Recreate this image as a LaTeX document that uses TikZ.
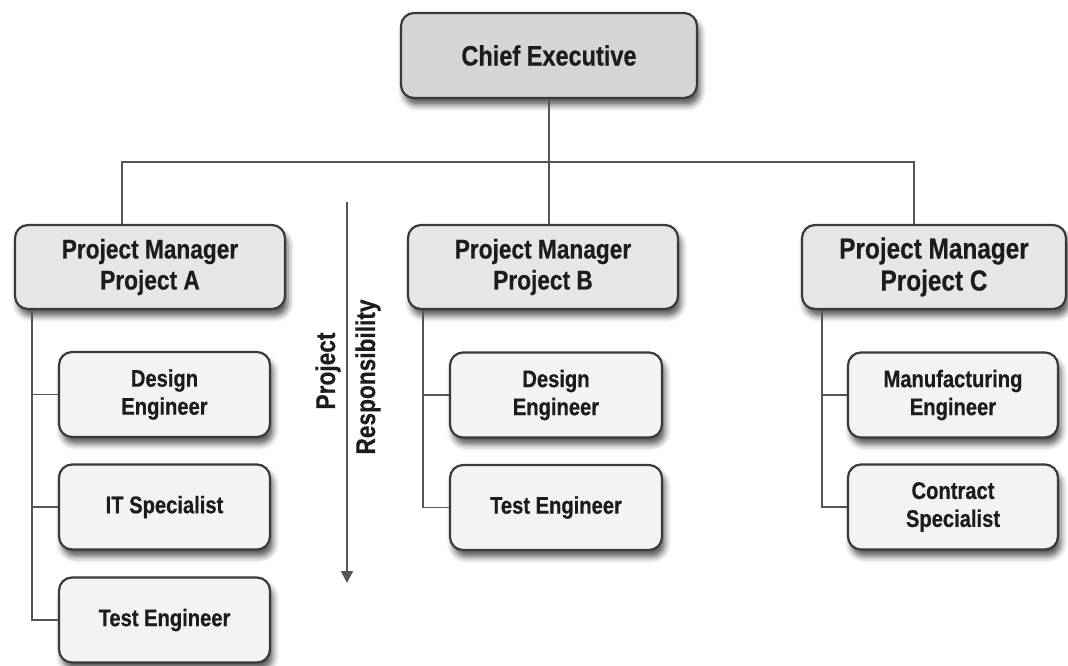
\documentclass[tikz,border=0pt]{standalone}
\usepackage{fontspec}
\setmainfont{Liberation Sans}[FakeStretch=0.84, BoldFeatures={FakeBold=0.5}]
\usetikzlibrary{arrows.meta,shadows.blur}
\definecolor{boxline}{HTML}{3A3A3A}
\definecolor{conn}{HTML}{555555}
\definecolor{cefill}{HTML}{D4D5D7}
\definecolor{pmfill}{HTML}{E6E6E7}
\definecolor{chfill}{HTML}{F3F3F3}
\definecolor{txt}{HTML}{1C1C1C}
\begin{document}
\begin{tikzpicture}[x=1pt,y=-1pt,
  box/.style={draw=boxline, line width=2.2pt, rounded corners=13pt, text=txt, align=center, inner sep=0pt,
    blur shadow={shadow xshift=3pt, shadow yshift=-7pt, shadow blur radius=6pt, shadow opacity=65}},
  cebox/.style={box, fill=cefill, minimum width=296pt, minimum height=85pt, font=\bfseries\fontsize{28}{32}\selectfont},
  pmbox/.style={box, fill=pmfill, minimum width=270pt, minimum height=84pt, font=\bfseries\fontsize{27}{31}\selectfont},
  chbox/.style={box, fill=chfill, minimum width=211pt, minimum height=85pt, font=\bfseries\fontsize{24}{28}\selectfont},
  link/.style={draw=conn, line width=1.8pt},
  rlabel/.style={rotate=90, text=txt, font=\bfseries\fontsize{27}{31}\selectfont, inner sep=0pt}
]
\useasboundingbox (0,0) rectangle (1068,665);

\node[cebox] (ce) at (549,55.5) {Chief Executive};

\node[pmbox] (pma) at (150,267) {Project Manager\\Project A};
\node[pmbox] (pmb) at (543,267) {Project Manager\\Project B};
\node[pmbox, minimum width=264pt, font=\bfseries\fontsize{29}{32}\selectfont] (pmc) at (934,267) {Project Manager\\Project C};

\node[chbox] (ade) at (164.5,394.5) {Design\\Engineer};
\node[chbox] (ait) at (164.5,507) {IT Specialist};
\node[chbox] (ate) at (164.5,620) {Test Engineer};

\node[chbox, minimum width=212pt] (bde) at (556,395) {Design\\Engineer};
\node[chbox, minimum width=212pt] (bte) at (556,507.5) {Test Engineer};

\node[chbox, minimum width=210pt] (cme) at (953,395) {Manufacturing\\Engineer};
\node[chbox, minimum width=210pt] (ccs) at (953,507) {Contract\\Specialist};

% top connectors
\coordinate (hl) at (122,162);
\coordinate (hr) at (914,162);
\draw[link] (ce.south) -- (ce.south |- pmb.north);
\draw[link] (hl |- pma.north) -- (hl) -- (hr) -- (hr |- pmc.north);

% brackets
\coordinate (ba) at (32,0);
\coordinate (bb) at (423,0);
\coordinate (bc) at (822,0);
\draw[link] (ba |- pma.south) -- (ba |- ate.west) -- (ate.west);
\draw[link] (ba |- ade.west) -- (ade.west);
\draw[link] (ba |- ait.west) -- (ait.west);
\draw[link] (bb |- pmb.south) -- (bb |- bte.west) -- (bte.west);
\draw[link] (bb |- bde.west) -- (bde.west);
\draw[link] (bc |- pmc.south) -- (bc |- ccs.west) -- (ccs.west);
\draw[link] (bc |- cme.west) -- (cme.west);

% responsibility arrow
\coordinate (arrtop) at (347,202);
\coordinate (arrbot) at (347,583);
\draw[link, -{Triangle[length=12pt,width=12pt]}] (arrtop) -- (arrbot);
\node[rlabel] (lp) at (328,371) {Project};
\node[rlabel] (lr) at (368,377) {Responsibility};
\end{tikzpicture}
\end{document}
